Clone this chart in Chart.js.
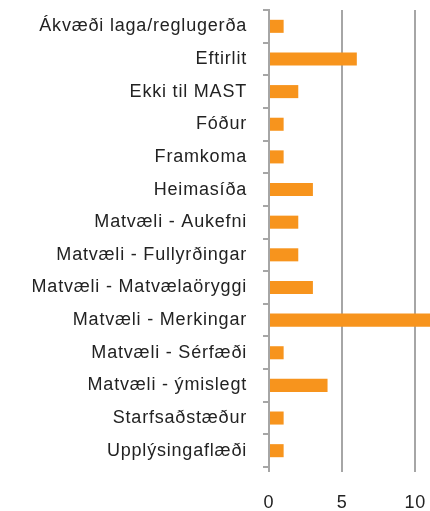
<!DOCTYPE html>
<html>
<head>
<meta charset="utf-8">
<script src="https://cdn.jsdelivr.net/npm/chart.js@4/dist/chart.umd.min.js"></script>
<style>
  html, body { margin: 0; padding: 0; background: #fff; overflow: hidden; }
  #wrap { width: 430px; height: 511px; position: relative; }
</style>
</head>
<body>
<div id="wrap"><canvas id="myChart"></canvas></div>
<script>
// data
const categories = [
  'Ákvæði laga/reglugerða',
  'Eftirlit',
  'Ekki til MAST',
  'Fóður',
  'Framkoma',
  'Heimasíða',
  'Matvæli - Aukefni',
  'Matvæli - Fullyrðingar',
  'Matvæli - Matvælaöryggi',
  'Matvæli - Merkingar',
  'Matvæli - Sérfæði',
  'Matvæli - ýmislegt',
  'Starfsaðstæður',
  'Upplýsingaflæði'
]
const counts = [1, 6, 2, 1, 1, 3, 2, 2, 3, 11, 1, 4, 1, 1]
const xTicks = [0, 5, 10]

const textColor = '#222222'
const gridColor = '#a6a6a6'

// wider letter spacing like the original
const spacingPlugin = {
  id: 'spacing',
  beforeLayout: (chart) => { chart.ctx.letterSpacing = '0.8px' },
  beforeDraw: (chart) => { chart.ctx.letterSpacing = '0.8px' }
}

const noPad = (scale) => {
  scale.paddingLeft = 0
  scale.paddingRight = 0
  scale.paddingTop = 0
  scale.paddingBottom = 0
}

const ctx = document.getElementById('myChart').getContext('2d')
const myChart = new Chart(ctx, {
  type: 'bar',
  data: {
    labels: categories,
    datasets: [{
      data: counts,
      backgroundColor: '#f7941d',
      categoryPercentage: 1,
      barPercentage: 0.4
    }]
  },
  plugins: [spacingPlugin],
  options: {
    indexAxis: 'y',
    responsive: true,
    maintainAspectRatio: false,
    animation: false,
    layout: { padding: { top: 10, right: 0, left: 0, bottom: 0 } },
    plugins: {
      legend: { display: false },
      tooltip: { enabled: false }
    },
    scales: {
      x: {
        min: 0,
        max: 11,
        afterBuildTicks: (scale) => {
          scale.ticks = xTicks.map(v => ({ value: v }))
        },
        afterFit: (scale) => { scale.height = 44; noPad(scale) },
        grid: {
          color: gridColor,
          lineWidth: 2,
          tickLength: 5,
          drawTicks: true
        },
        border: { display: false },
        ticks: {
          color: textColor,
          padding: 20,
          maxRotation: 0,
          font: { family: 'Liberation Sans', size: 18 }
        }
      },
      y: {
        afterFit: (scale) => { scale.width = 269; noPad(scale) },
        grid: {
          offset: true,
          drawOnChartArea: false,
          color: gridColor,
          lineWidth: 2,
          tickLength: 6
        },
        border: { display: true, color: gridColor, width: 2 },
        ticks: {
          color: textColor,
          padding: 16,
          autoSkip: false,
          font: { family: 'Liberation Sans', size: 18 }
        }
      }
    }
  }
})
</script>
</body>
</html>
